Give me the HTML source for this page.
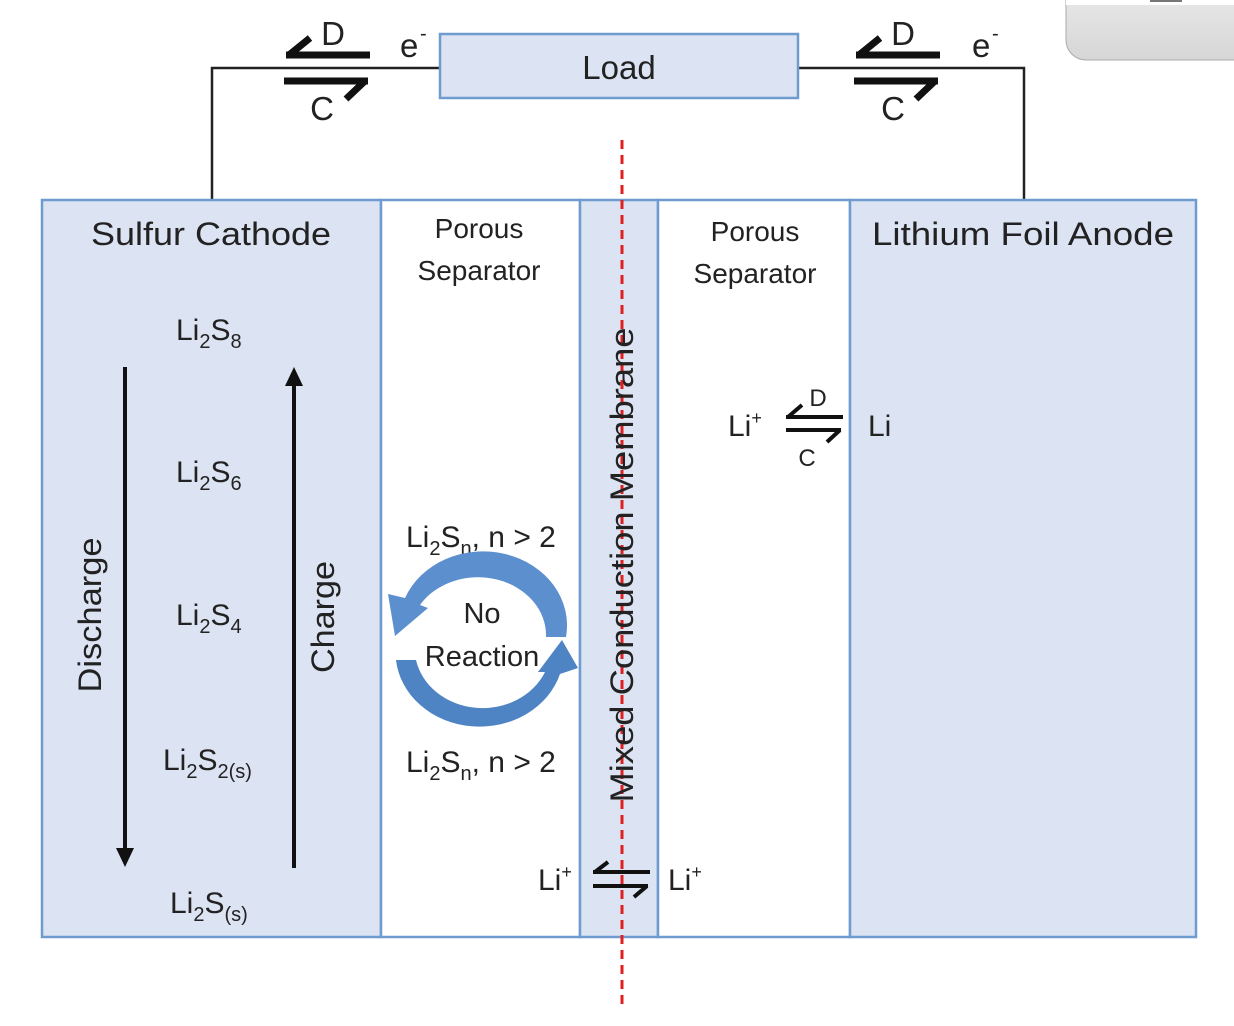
<!DOCTYPE html>
<html><head><meta charset="utf-8"><style>
html,body{margin:0;padding:0;background:#fff;width:1234px;height:1026px;overflow:hidden}
text{font-family:"Liberation Sans",sans-serif;fill:#222}
</style></head><body>
<svg width="1234" height="1026" viewBox="0 0 1234 1026" xmlns="http://www.w3.org/2000/svg">
<defs>
<linearGradient id="g" x1="0" y1="0" x2="0" y2="1"><stop offset="0" stop-color="#ececec"/><stop offset="1" stop-color="#d6d6d6"/></linearGradient>
</defs>
<rect x="1066" y="-20" width="200" height="80" rx="20" fill="url(#g)" stroke="#aaa"/>
<rect x="1066" y="0" width="170" height="5" fill="#fff"/>
<rect x="1150" y="0" width="32" height="2" fill="#777"/>

<path d="M212,200 V68 H440 M798,68 H1024 V200" fill="none" stroke="#222" stroke-width="2.5"/>
<rect x="440" y="34" width="358" height="64" fill="#dce3f2" stroke="#6f9bd0" stroke-width="2.5"/>
<text x="619" y="79" font-size="33" text-anchor="middle">Load</text>

<g stroke="#111" stroke-width="7" fill="none">
<path d="M286,55 H370 M289,55 L310,38"/>
<path d="M284,81 H368 M365,81 L346,99"/>
<path d="M856,55 H940 M859,55 L880,38"/>
<path d="M854,81 H938 M935,81 L916,99"/>
</g>
<text x="333" y="45" font-size="33" text-anchor="middle">D</text>
<text x="322" y="120" font-size="33" text-anchor="middle">C</text>
<text x="400" y="57" font-size="33">e</text><text x="420" y="40" font-size="20">-</text>
<text x="903" y="45" font-size="33" text-anchor="middle">D</text>
<text x="893" y="120" font-size="33" text-anchor="middle">C</text>
<text x="972" y="57" font-size="33">e</text><text x="992" y="40" font-size="20">-</text>

<rect x="42" y="200" width="339" height="737" fill="#dce3f2" stroke="#6f9bd0" stroke-width="2.5"/>
<rect x="381" y="200" width="199" height="737" fill="#fff" stroke="#6f9bd0" stroke-width="2.5"/>
<rect x="580" y="200" width="78" height="737" fill="#dce3f2" stroke="#6f9bd0" stroke-width="2.5"/>
<rect x="658" y="200" width="192" height="737" fill="#fff" stroke="#6f9bd0" stroke-width="2.5"/>
<rect x="850" y="200" width="346" height="737" fill="#dce3f2" stroke="#6f9bd0" stroke-width="2.5"/>

<line x1="622" y1="140" x2="622" y2="1005" stroke="#e02020" stroke-width="3" stroke-dasharray="9,6"/>

<text x="211" y="245" font-size="32" text-anchor="middle" textLength="240" lengthAdjust="spacingAndGlyphs">Sulfur Cathode</text>
<text x="479" y="238" font-size="28" text-anchor="middle">Porous</text>
<text x="479" y="280" font-size="28" text-anchor="middle">Separator</text>
<text x="755" y="241" font-size="28" text-anchor="middle">Porous</text>
<text x="755" y="283" font-size="28" text-anchor="middle">Separator</text>
<text x="1023" y="245" font-size="32" text-anchor="middle" textLength="302" lengthAdjust="spacingAndGlyphs">Lithium Foil Anode</text>

<g font-size="30">
<text x="176" y="340">Li<tspan font-size="20" dy="8">2</tspan><tspan dy="-8">S</tspan><tspan font-size="20" dy="8">8</tspan></text>
<text x="176" y="482">Li<tspan font-size="20" dy="8">2</tspan><tspan dy="-8">S</tspan><tspan font-size="20" dy="8">6</tspan></text>
<text x="176" y="625">Li<tspan font-size="20" dy="8">2</tspan><tspan dy="-8">S</tspan><tspan font-size="20" dy="8">4</tspan></text>
<text x="163" y="770">Li<tspan font-size="20" dy="8">2</tspan><tspan dy="-8">S</tspan><tspan font-size="20" dy="8">2(s)</tspan></text>
<text x="170" y="913">Li<tspan font-size="20" dy="8">2</tspan><tspan dy="-8">S</tspan><tspan font-size="20" dy="8">(s)</tspan></text>
<text x="406" y="547">Li<tspan font-size="20" dy="8">2</tspan><tspan dy="-8">S</tspan><tspan font-size="20" dy="8">n</tspan><tspan dy="-8">, n &gt; 2</tspan></text>
<text x="406" y="772">Li<tspan font-size="20" dy="8">2</tspan><tspan dy="-8">S</tspan><tspan font-size="20" dy="8">n</tspan><tspan dy="-8">, n &gt; 2</tspan></text>
</g>

<line x1="125" y1="367" x2="125" y2="850" stroke="#111" stroke-width="4"/>
<path d="M116,848 L125,867 L134,848 Z" fill="#111"/>
<line x1="294" y1="868" x2="294" y2="385" stroke="#111" stroke-width="4"/>
<path d="M285,386 L294,367 L303,386 Z" fill="#111"/>
<text transform="translate(101,615) rotate(-90)" font-size="32" text-anchor="middle" textLength="155" lengthAdjust="spacingAndGlyphs">Discharge</text>
<text transform="translate(334,617) rotate(-90)" font-size="32" text-anchor="middle" textLength="112" lengthAdjust="spacingAndGlyphs">Charge</text>

<path d="M566,637 A84,74 0 0 0 405,598 L388,594 L395,636 L428,608 L420,605 A68,58 0 0 1 546,637 Z" fill="#5b8fcd"/>
<path d="M396,660 A84,74 0 0 0 560,674 L578,668 L562,640 L538,672 L545,672 A68,60 0 0 1 416,660 Z" fill="#4f84c4"/>
<text x="482" y="623" font-size="29" text-anchor="middle">No</text>
<text x="482" y="666" font-size="29" text-anchor="middle">Reaction</text>

<text transform="translate(633,565) rotate(-90)" font-size="32" text-anchor="middle" textLength="475" lengthAdjust="spacingAndGlyphs">Mixed Conduction Membrane</text>

<text x="538" y="890" font-size="30">Li<tspan font-size="18" dy="-12">+</tspan></text>
<text x="668" y="890" font-size="30">Li<tspan font-size="18" dy="-12">+</tspan></text>
<g stroke="#111" stroke-width="4" fill="none">
<path d="M593,872 H650 M595,872 L608,862"/>
<path d="M593,886 H648 M647,886 L634,897"/>
</g>

<text x="728" y="436" font-size="30">Li<tspan font-size="18" dy="-12">+</tspan></text>
<text x="868" y="436" font-size="30">Li</text>
<g stroke="#111" stroke-width="4" fill="none">
<path d="M786,417 H843 M788,417 L802,405"/>
<path d="M786,430 H841 M840,430 L827,442"/>
</g>
<text x="818" y="406" font-size="24" text-anchor="middle">D</text>
<text x="807" y="466" font-size="24" text-anchor="middle">C</text>
</svg>
</body></html>
